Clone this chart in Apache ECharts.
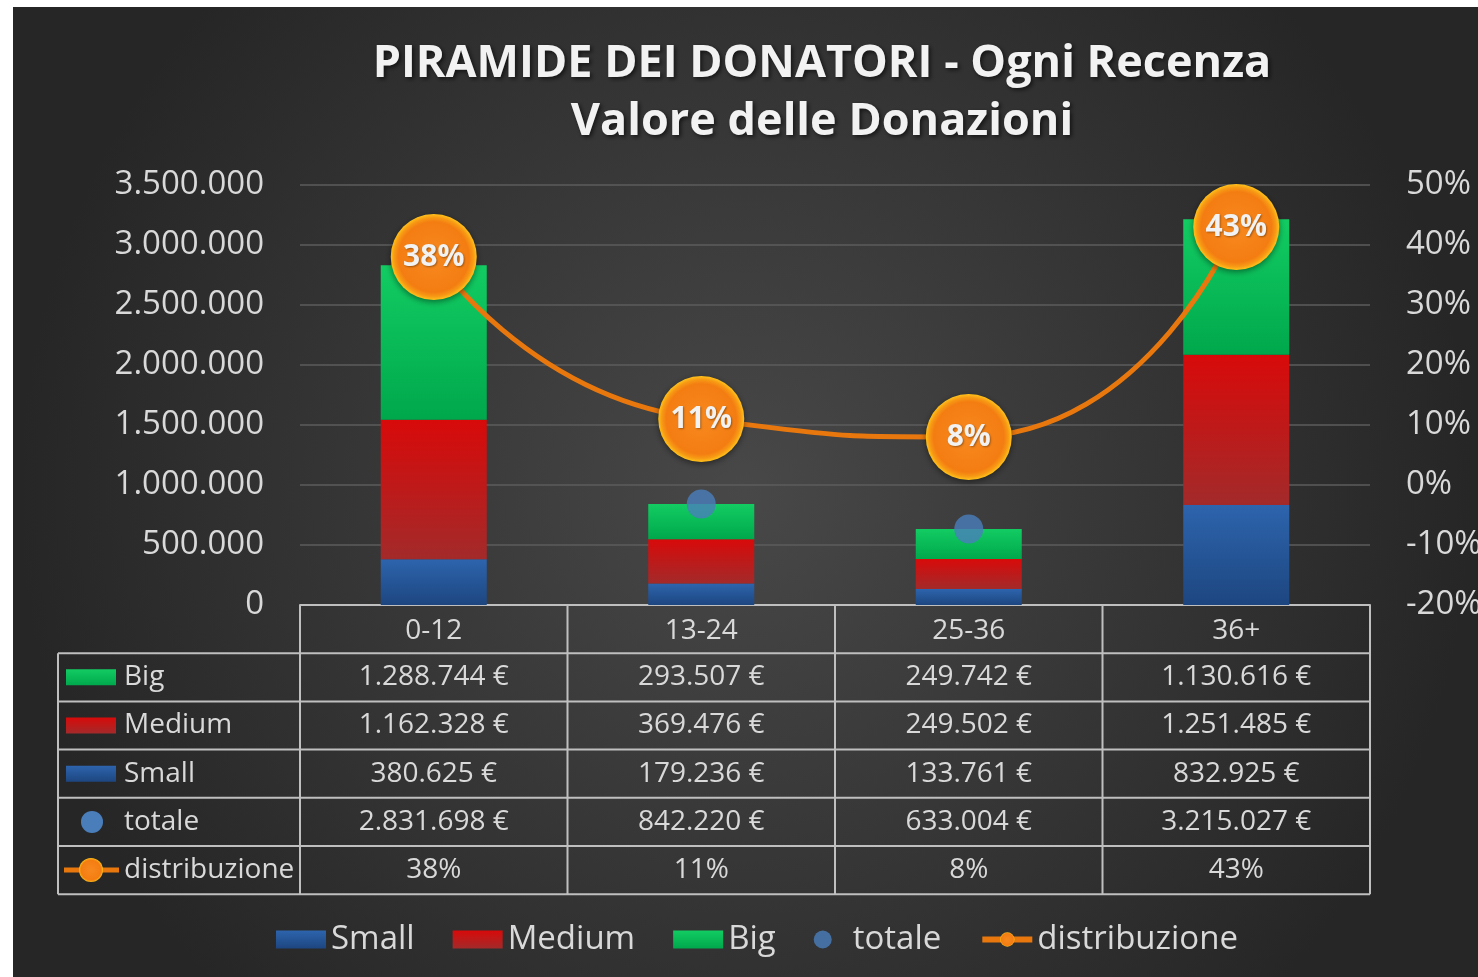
<!DOCTYPE html>
<html>
<head>
<meta charset="utf-8">
<script src="https://cdn.jsdelivr.net/npm/echarts@6/dist/echarts.min.js"></script>
<style>
html,body{margin:0;padding:0;background:#ffffff;}
#c{position:absolute;left:13px;top:7px;width:1465px;height:970px;}
</style>
</head>
<body>
<div id="c"></div>
<script>
const categories = ['0-12', '13-24', '25-36', '36+'];
const small = [380625, 179236, 133761, 832925];
const medium = [1162328, 369476, 249502, 1251485];
const big = [1288744, 293507, 249742, 1130616];
const totale = [2831698, 842220, 633004, 3215027];
const distribuzione = [38, 11, 8, 43];
const leftTicks = {min: 0, max: 3500000, interval: 500000};
const rightTicks = {min: -20, max: 50, interval: 10};

const FONT = 'Open Sans';
const TXT = '#d9d9d9';

function fmt(n) { return String(n).replace(/\B(?=(\d{3})+(?!\d))/g, '.'); }
function vgrad(top, bottom) {
  return new echarts.graphic.LinearGradient(0, 0, 0, 1, [
    {offset: 0, color: top}, {offset: 1, color: bottom}
  ]);
}
const colSmall = () => vgrad('#2d64ad', '#1d4680');
const colMedium = () => vgrad('#d80a0a', '#a32a2a');
const colBig = () => vgrad('#12cc62', '#00a84c');
const orangeBall = () => new echarts.graphic.RadialGradient(0.5, 0.5, 0.5, [
  {offset: 0, color: '#f7891f'}, {offset: 0.82, color: '#f47d12'},
  {offset: 0.92, color: '#f79a14'}, {offset: 1, color: '#ffc21a'}
]);

const chart = echarts.init(document.getElementById('c'));
const option = {
  backgroundColor: {
    type: 'radial', x: 0.5, y: 0.5, r: 0.75,
    colorStops: [{offset: 0, color: '#484848'}, {offset: 1, color: '#262626'}]
  },
  animation: false,
  title: {
    text: 'PIRAMIDE DEI DONATORI - Ogni Recenza\nValore delle Donazioni',
    left: 809, top: 28, textAlign: 'center', padding: 0,
    textStyle: {
      fontFamily: FONT, fontSize: 45, fontWeight: 'bold', lineHeight: 58,
      color: '#f2f2f2', textShadowColor: 'rgba(0,0,0,0.6)', textShadowBlur: 4,
      textShadowOffsetX: 2, textShadowOffsetY: 2
    }
  },
  grid: {left: 287, right: 108, top: 178, bottom: 372, outerBoundsMode: 'none', containLabel: false},
  legend: {
    left: 258, top: 911, itemWidth: 50, itemHeight: 18, itemGap: 38,
    textStyle: {fontFamily: FONT, fontSize: 33, color: TXT},
    data: [
      {name: 'Small', icon: 'rect'},
      {name: 'Medium', icon: 'rect'},
      {name: 'Big', icon: 'rect'},
      {name: 'totale', icon: 'circle'},
      {name: 'distribuzione', lineStyle: {width: 6}}
    ]
  },
  xAxis: {
    type: 'category', data: categories,
    axisLine: {show: true, lineStyle: {color: '#bfbfbf', width: 2}},
    axisTick: {show: false},
    axisLabel: {margin: 12, fontFamily: FONT, fontSize: 28, lineHeight: 28, color: TXT}
  },
  yAxis: [
    {
      type: 'value', min: leftTicks.min, max: leftTicks.max, interval: leftTicks.interval,
      axisLine: {show: false}, axisTick: {show: false},
      axisLabel: {margin: 36, fontFamily: FONT, fontSize: 33, color: TXT, formatter: v => fmt(v)},
      splitLine: {lineStyle: {color: '#5c5c5c', width: 1.5}}
    },
    {
      type: 'value', min: rightTicks.min, max: rightTicks.max, interval: rightTicks.interval,
      axisLine: {show: false}, axisTick: {show: false}, splitLine: {show: false},
      axisLabel: {margin: 36, fontFamily: FONT, fontSize: 33, color: TXT, formatter: '{value}%'}
    }
  ],
  series: [
    {name: 'Small', type: 'bar', stack: 'a', data: small, barWidth: 106, itemStyle: {color: colSmall()}},
    {name: 'Medium', type: 'bar', stack: 'a', data: medium, barWidth: 106, itemStyle: {color: colMedium()}},
    {name: 'Big', type: 'bar', stack: 'a', data: big, barWidth: 106, itemStyle: {color: colBig()}},
    {name: 'totale', type: 'scatter', data: totale, symbolSize: 29, z: 3, itemStyle: {color: '#4a7ebb'}},
    {
      name: 'distribuzione', type: 'line', yAxisIndex: 1, data: distribuzione, smooth: 0.6, z: 5,
      lineStyle: {color: '#e8780e', width: 5},
      symbol: 'circle', symbolSize: 86,
      itemStyle: {color: orangeBall(), shadowColor: 'rgba(0,0,0,0.45)', shadowBlur: 6, shadowOffsetY: 2},
      label: {
        show: true, position: 'inside', formatter: p => p.value + '%',
        fontFamily: FONT, fontSize: 30, fontWeight: 'bold', color: '#f2f2f2',
        textShadowColor: 'rgba(0,0,0,0.35)', textShadowBlur: 2, textShadowOffsetX: 1, textShadowOffsetY: 1
      }
    }
  ]
};
chart.setOption(option);

// data table under the chart, positioned from the category axis
const xs = categories.map((c, i) => chart.convertToPixel({xAxisIndex: 0}, i));
const band = xs[1] - xs[0];
const x0 = xs[0] - band / 2, x1 = xs[xs.length - 1] + band / 2;
const yTop = chart.convertToPixel({yAxisIndex: 0}, 0);
const rh = 48.2;
const tableLeft = 45;
const rows = [
  {name: 'Big', vals: big.map(v => fmt(v) + ' €')},
  {name: 'Medium', vals: medium.map(v => fmt(v) + ' €')},
  {name: 'Small', vals: small.map(v => fmt(v) + ' €')},
  {name: 'totale', vals: totale.map(v => fmt(v) + ' €')},
  {name: 'distribuzione', vals: distribuzione.map(v => v + '%')}
];
const LS = {stroke: '#bfbfbf', lineWidth: 2};
const g = [];
for (let r = 1; r <= rows.length + 1; r++) {
  const y = yTop + r * rh;
  g.push({type: 'line', shape: {x1: tableLeft, y1: y, x2: x1, y2: y}, style: LS});
}
g.push({type: 'line', shape: {x1: tableLeft, y1: yTop + rh, x2: tableLeft, y2: yTop + (rows.length + 1) * rh}, style: LS});
for (let i = 0; i <= categories.length; i++) {
  const x = x0 + i * band;
  g.push({type: 'line', shape: {x1: x, y1: yTop, x2: x, y2: yTop + (rows.length + 1) * rh}, style: LS});
}
rows.forEach((row, r) => {
  const cy = yTop + (r + 1.5) * rh;
  row.vals.forEach((t, i) => {
    g.push({type: 'text', x: xs[i], y: cy, style: {text: t, fill: TXT, font: '28px "' + FONT + '"', align: 'center', verticalAlign: 'middle'}});
  });
  g.push({type: 'text', x: 111, y: cy, style: {text: row.name, fill: TXT, font: '28px "' + FONT + '"', align: 'left', verticalAlign: 'middle'}});
});
const keyY = r => yTop + (r + 1.5) * rh;
g.push({type: 'rect', shape: {x: 53, y: keyY(0) - 8, width: 50, height: 16}, style: {fill: colBig()}});
g.push({type: 'rect', shape: {x: 53, y: keyY(1) - 8, width: 50, height: 16}, style: {fill: colMedium()}});
g.push({type: 'rect', shape: {x: 53, y: keyY(2) - 8, width: 50, height: 16}, style: {fill: colSmall()}});
g.push({type: 'circle', shape: {cx: 79, cy: keyY(3), r: 11}, style: {fill: '#4a7ebb'}});
g.push({type: 'line', shape: {x1: 51, y1: keyY(4), x2: 106, y2: keyY(4)}, style: {stroke: '#e8780e', lineWidth: 5}});
g.push({type: 'circle', shape: {cx: 78, cy: keyY(4), r: 12}, style: {fill: orangeBall()}});
chart.setOption({graphic: g});
</script>
</body>
</html>
